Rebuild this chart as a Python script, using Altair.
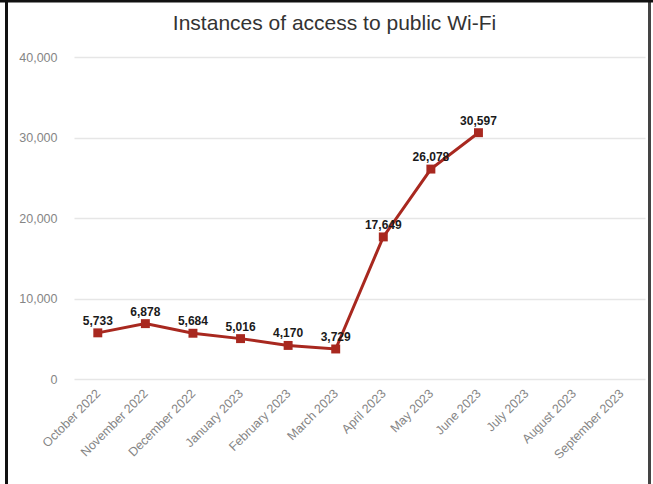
import altair as alt
import pandas as pd

months = ["October 2022", "November 2022", "December 2022", "January 2023",
          "February 2023", "March 2023", "April 2023", "May 2023", "June 2023",
          "July 2023", "August 2023", "September 2023"]
values = [5733, 6878, 5684, 5016, 4170, 3729, 17649, 26078, 30597]
y_ticks = [0, 10000, 20000, 30000, 40000]
title_text = "Instances of access to public Wi-Fi"

df = pd.DataFrame({"month": months[:len(values)], "value": values})
df["label"] = df["value"].map(lambda v: f"{v:,}")

FONT = "Liberation Sans"
RED = "#a8281f"

x_enc = alt.X("month:N", sort=months, scale=alt.Scale(domain=months, paddingOuter=0.5),
              axis=alt.Axis(title=None, labelAngle=-45, labelAlign="right", labelBaseline="middle",
                            labelPadding=12, ticks=False, domain=False, grid=False,
                            labelColor="#858585", labelFontSize=12.5, labelFont=FONT))
y_enc = alt.Y("value:Q", scale=alt.Scale(domain=[0, 40000], nice=False),
              axis=alt.Axis(title=None, values=y_ticks, format=",d", ticks=False, domain=False,
                            labelPadding=17, labelColor="#858585", labelFontSize=12.5,
                            labelFont=FONT, gridColor="#e6e6e6", gridWidth=1.5))

base = alt.Chart(df)
line = base.mark_line(color=RED, strokeWidth=3).encode(x=x_enc, y=y_enc)
pts = base.mark_point(shape="square", filled=True, color=RED, size=80, opacity=1).encode(
    x=alt.X("month:N", sort=months), y="value:Q")
labels = base.mark_text(font=FONT, fontSize=12, fontWeight="bold", color="#1a1a1a",
                        dy=-12, baseline="middle").encode(
    x=alt.X("month:N", sort=months), y="value:Q", text="label:N")

frame = pd.DataFrame({"k": [0]})
title_mark = alt.Chart(frame).mark_text(font=FONT, fontSize=21, color="#333333",
                                        align="center", baseline="alphabetic",
                                        text=title_text).encode(
    x=alt.value(260.5), y=alt.value(-27))
left_border = alt.Chart(frame).mark_rule(color="#111111", strokeWidth=3).encode(
    x=alt.value(-67.5), y=alt.value(-60), y2=alt.value(430))
right_border = alt.Chart(frame).mark_rule(color="#444444", strokeWidth=3).encode(
    x=alt.value(575.5), y=alt.value(-60), y2=alt.value(430))
top_border = alt.Chart(frame).mark_rule(color="#111111", strokeWidth=3).encode(
    x=alt.value(-74), x2=alt.value(580), y=alt.value(-56))

chart = alt.layer(line, pts, labels, title_mark, left_border, right_border, top_border).properties(
    width=571, height=322,
    autosize=alt.AutoSizeParams(type="none"),
    padding={"left": 74, "top": 57, "right": 8, "bottom": 105},
    background="white",
).configure_view(stroke=None)

chart.save("out.html", embed_options={"renderer": "svg", "actions": False})
